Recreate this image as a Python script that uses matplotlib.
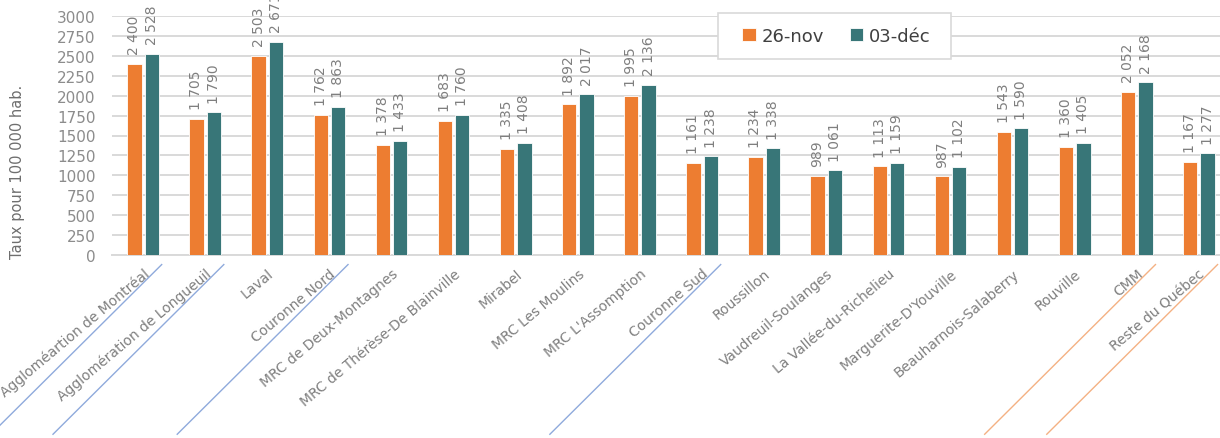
import matplotlib.pyplot as plt
import matplotlib.transforms as mtransforms
from matplotlib.patches import Rectangle
import numpy as np

# Data
categories = [
    "Aggloméartion de Montréal", "Agglomération de Longueuil", "Laval",
    "Couronne Nord", "MRC de Deux-Montagnes", "MRC de Thérèse-De Blainville",
    "Mirabel", "MRC Les Moulins", "MRC L'Assomption", "Couronne Sud",
    "Roussillon", "Vaudreuil-Soulanges", "La Vallée-du-Richelieu",
    "Marguerite-D'Youville", "Beauharnois-Salaberry", "Rouville", "CMM",
    "Reste du Québec",
]
nov26 = [2400, 1705, 2503, 1762, 1378, 1683, 1335, 1892, 1995,
         1161, 1234, 989, 1113, 987, 1543, 1360, 2052, 1167]
dec03 = [2528, 1790, 2671, 1863, 1433, 1760, 1408, 2017, 2136,
         1238, 1338, 1061, 1159, 1102, 1590, 1405, 2168, 1277]
series_names = ["26-nov", "03-déc"]
yticks = list(range(0, 3001, 250))

# categories underlined with a slanted line, and the line colour
underlined = {0: "#8FAADC", 1: "#8FAADC", 3: "#8FAADC", 9: "#8FAADC",
              16: "#F4B183", 17: "#F4B183"}

orange = "#ED7D31"
teal = "#387678"
grey = "#7F7F7F"

W, H = 1220, 439
fig = plt.figure(figsize=(W / 100, H / 100), dpi=100)
left, right, top, bottom = 112, 1230, 17, 256
ax = fig.add_axes([left / W, 1 - bottom / H, (right - left) / W, (bottom - top) / H])

x = np.arange(len(categories))
bw = 0.23
off = 0.14
b1 = ax.bar(x - off, nov26, bw, color=orange, edgecolor="white", linewidth=0.6,
            label=series_names[0], zorder=3)
b2 = ax.bar(x + off, dec03, bw, color=teal, edgecolor="white", linewidth=0.6,
            label=series_names[1], zorder=3)


def fmt(v):
    return f"{v:,}".replace(",", " ")


for bars, vals in ((b1, nov26), (b2, dec03)):
    for rect, v in zip(bars, vals):
        ax.annotate(fmt(v), (rect.get_x() + rect.get_width() / 2, v),
                    xytext=(0, 7), textcoords="offset points",
                    rotation=90, ha="center", va="bottom",
                    fontsize=10, color=grey, annotation_clip=False)

ax.set_xlim(-0.5, len(categories) - 0.5)
ax.set_ylim(0, 3000)
ax.set_yticks(yticks)
ax.tick_params(axis="y", length=0, labelsize=11, labelcolor="#8C8C8C", pad=12)
ax.set_xticks(x)
ax.set_xticklabels(categories, rotation=40, ha="right", rotation_mode="anchor",
                   fontsize=10, color=grey)
ax.tick_params(axis="x", length=0, pad=8)
ax.grid(axis="y", color="#D9D9D9", linewidth=1.4, zorder=0)
for s in ("top", "right", "left"):
    ax.spines[s].set_visible(False)
ax.spines["bottom"].set_color("#D9D9D9")
ax.spines["bottom"].set_linewidth(1.4)

fig.text(18 / W, 1 - 172 / H, "Taux pour 100 000 hab.", rotation=90,
         ha="center", va="center", fontsize=10.5, color="#6E6E6E")

# slanted underlines below some category labels
trans = mtransforms.blended_transform_factory(ax.transData, ax.transAxes)
for i, c in underlined.items():
    ax.plot([i + 0.3, i - 2.45], [-0.04, -0.75], color=c, linewidth=1,
            transform=trans, clip_on=False)

# legend box drawn separately so the padding matches
box = Rectangle((718 / W, 1 - 60 / H), (951 - 718) / W, 46 / H,
                transform=fig.transFigure, facecolor="white",
                edgecolor="#D9D9D9", linewidth=1.2, zorder=4, clip_on=False)
ax.add_patch(box)
leg = ax.legend(loc="center left", bbox_to_anchor=(742 / W, 1 - 37 / H),
                bbox_transform=fig.transFigure, ncol=2, frameon=False,
                fontsize=13, handlelength=0.75, handleheight=0.75,
                handletextpad=0.35, columnspacing=1.4, borderpad=0,
                borderaxespad=0)
leg.set_zorder(5)
for t in leg.get_texts():
    t.set_color("#404040")

fig.savefig("out.png", dpi=100)
